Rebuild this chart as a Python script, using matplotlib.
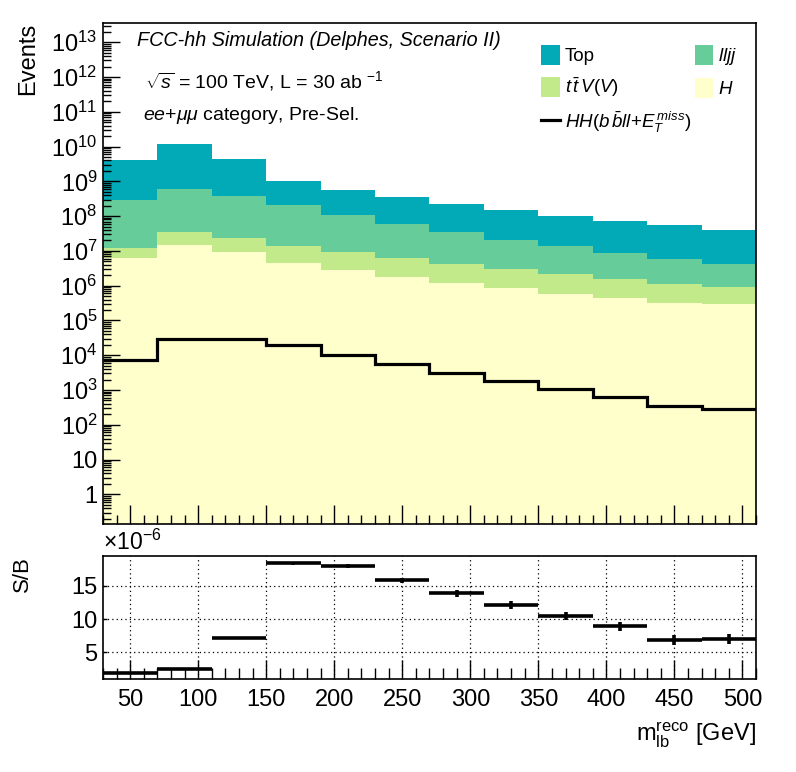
import numpy as np
import matplotlib
matplotlib.use("Agg")
import matplotlib.pyplot as plt
from matplotlib.patches import Patch
from matplotlib.lines import Line2D
from matplotlib.ticker import FixedLocator, MultipleLocator, NullFormatter

plt.rcParams["font.family"] = ["Liberation Sans", "DejaVu Sans"]
plt.rcParams["mathtext.fontset"] = "custom"
plt.rcParams["mathtext.rm"] = "Liberation Sans"
plt.rcParams["mathtext.it"] = "Liberation Sans:italic"
plt.rcParams["mathtext.bf"] = "Liberation Sans:bold"

# m_lb^reco bins [GeV]
bin_edges = np.arange(30, 511, 40)

# background samples (events per bin), stacked bottom to top
h_bkg = [6.3e6, 1.49e7, 9.4e6, 4.6e6, 2.8e6, 1.8e6, 1.17e6, 8.5e5, 5.8e5, 4.5e5, 3.2e5, 3.0e5]
ttv_bkg = [6.0e6, 2.01e7, 1.46e7, 9.4e6, 6.6e6, 4.5e6, 3.13e6, 2.15e6, 1.62e6, 1.15e6, 8.0e5, 6.2e5]
lljj_bkg = [2.84e8, 5.75e8, 3.56e8, 1.96e8, 1.006e8, 5.37e7, 3.07e7, 1.8e7, 1.18e7, 7.3e6, 4.88e6, 3.38e6]
top_bkg = [3.9e9, 1.14e10, 4.12e9, 8.3e8, 4.6e8, 3.0e8, 1.9e8, 1.29e8, 8.8e7, 6.41e7, 5.0e7, 3.67e7]

# signal HH(bbll+MET)
signal = [7.4e3, 2.9e4, 2.9e4, 1.94e4, 1.0e4, 5.6e3, 3.1e3, 1.78e3, 1.05e3, 645, 355, 280]

# S/B in units of 1e-6
sb_ratio = [1.84, 2.48, 7.1, 18.4, 18.0, 15.84, 13.88, 12.07, 10.42, 8.91, 6.81, 6.96]
sb_err = [0.05, 0.05, 0.05, 0.25, 0.3, 0.35, 0.5, 0.6, 0.6, 0.65, 0.75, 0.75]

stack = [
    (h_bkg, "#ffffcc", r"$H$"),
    (ttv_bkg, "#c2ea8a", r"$t\,\bar{t}\,V(V)$"),
    (lljj_bkg, "#66cc99", r"$lljj$"),
    (top_bkg, "#02a9b6", "Top"),
]

fig = plt.figure(figsize=(7.96, 7.72), dpi=100)
ax = fig.add_axes([0.1294, 0.3212, 0.8203, 0.6486])
rax = fig.add_axes([0.1294, 0.1201, 0.8203, 0.1601])

# stacked histogram
ymin, ymax = 0.14, 3.5e13
base = np.full(len(h_bkg), 1e-3)
for vals, color, _ in stack:
    tops = base + np.array(vals)
    ax.stairs(tops, bin_edges, baseline=base, fill=True, color=color, linewidth=0)
    base = tops

ax.stairs(signal, bin_edges, baseline=None, color="black", linewidth=2.3)

ax.set_yscale("log")
ax.set_ylim(ymin, ymax)
ax.set_xlim(30, 510)
decades = [10.0 ** k for k in range(0, 14)]
dec_labels = ["1", "10"] + [rf"$10^{{{k}}}$" for k in range(2, 14)]
ax.yaxis.set_major_locator(FixedLocator(decades))
ax.set_yticklabels(dec_labels)
minors = [m * 10.0 ** k for k in range(-1, 14) for m in range(2, 10)]
ax.yaxis.set_minor_locator(FixedLocator(minors))
ax.yaxis.set_minor_formatter(NullFormatter())
ax.xaxis.set_major_locator(MultipleLocator(50))
ax.xaxis.set_minor_locator(MultipleLocator(10))
ax.tick_params(axis="x", which="both", direction="in", labelbottom=False)
ax.tick_params(axis="x", which="major", length=13.5, width=1)
ax.tick_params(axis="x", which="minor", length=6.5, width=1)
ax.tick_params(axis="y", which="major", direction="in", length=12, width=1, labelsize=17, pad=4)
ax.tick_params(axis="y", which="minor", direction="in", length=6, width=1)
for s in ax.spines.values():
    s.set_linewidth(1.2)

fig.text(28 / 796, 1 - 23 / 772, "Events", rotation=90, ha="center", va="top", fontsize=17)

ax.text(0.052, 0.966, "FCC-hh Simulation (Delphes, Scenario II)", transform=ax.transAxes,
        ha="left", va="center", fontsize=14.2, style="italic")
ax.text(0.064, 0.884, r"$\sqrt{s}$ = 100 TeV, L = 30 ab $^{-1}$", transform=ax.transAxes,
        ha="left", va="center", fontsize=14)
ax.text(0.061, 0.815, r"$ee$+$\mu\mu$ category, Pre-Sel.", transform=ax.transAxes,
        ha="left", va="center", fontsize=14)

handles = [
    Patch(facecolor=stack[3][1], edgecolor="none"),
    Patch(facecolor=stack[1][1], edgecolor="none"),
    Line2D([], [], color="black", linewidth=2.3),
    Patch(facecolor=stack[2][1], edgecolor="none"),
    Patch(facecolor=stack[0][1], edgecolor="none"),
]
labels = [stack[3][2], stack[1][2], r"$HH(b\,\bar{b}ll$+$E_T^{\,miss})$", stack[2][2], stack[0][2]]
ax.legend(handles, labels, ncol=2, loc="upper left", bbox_to_anchor=(0.671, 0.957),
          frameon=False, fontsize=13.5, handlelength=1.0, handleheight=1.3,
          handletextpad=0.25, columnspacing=0.2, labelspacing=0.55,
          borderpad=0, borderaxespad=0)

# ratio panel
centers = 0.5 * (bin_edges[:-1] + bin_edges[1:])
rax.errorbar(centers, sb_ratio, xerr=20, yerr=sb_err, fmt="none", ecolor="black",
             elinewidth=2.6, capsize=0)
rax.set_xlim(30, 510)
rax.set_ylim(0.93, 19.55)
rax.xaxis.set_major_locator(MultipleLocator(50))
rax.xaxis.set_minor_locator(MultipleLocator(10))
rax.yaxis.set_major_locator(FixedLocator([5, 10, 15]))
rax.tick_params(axis="x", which="major", direction="in", length=13.5, width=1, labelsize=17, pad=7)
rax.tick_params(axis="x", which="minor", direction="in", length=8, width=1)
rax.tick_params(axis="y", which="major", direction="in", length=3, width=1, labelsize=17, pad=4)
rax.grid(True, which="major", linestyle=(0, (1, 2.5)), color="black", linewidth=0.9)
rax.set_axisbelow(False)
for s in rax.spines.values():
    s.set_linewidth(1.2)
rax.text(0.0, 1.005, r"$\times10^{-6}$", transform=rax.transAxes, ha="left", va="bottom", fontsize=16.5)

fig.text(22 / 796, 1 - 556 / 772, "S/B", rotation=90, ha="center", va="top", fontsize=16)
fig.text(756 / 796, 1 - 735 / 772, r"$\mathrm{m}_{\mathrm{lb}}^{\mathrm{reco}}$ [GeV]",
         ha="right", va="center", fontsize=17)

fig.savefig("out.png", dpi=100)
